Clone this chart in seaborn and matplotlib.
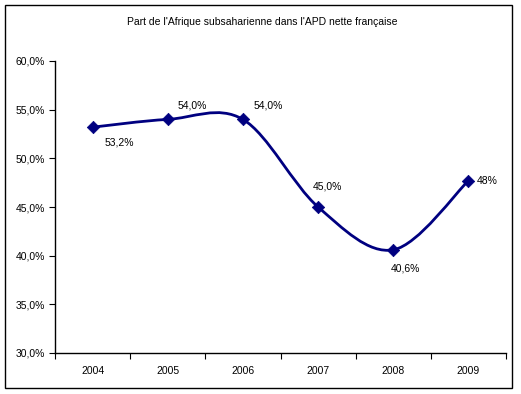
import numpy as np
import pandas as pd
import matplotlib
matplotlib.use("Agg")
import matplotlib.pyplot as plt
from matplotlib.path import Path
from matplotlib.patches import PathPatch, Rectangle
import seaborn as sns

years = ["2004", "2005", "2006", "2007", "2008", "2009"]
share = [53.2, 54.0, 54.0, 45.0, 40.6, 47.7]
labels = ["53,2%", "54,0%", "54,0%", "45,0%", "40,6%", "48%"]
yticks = [30, 35, 40, 45, 50, 55, 60]
title = "Part de l'Afrique subsaharienne dans l'APD nette française"

sns.set_style("white")
plt.rcParams['font.family'] = ['Liberation Sans', 'DejaVu Sans']
plt.rcParams['text.color'] = 'black'
plt.rcParams['xtick.color'] = 'black'
plt.rcParams['ytick.color'] = 'black'

navy = "#000080"
fig = plt.figure(figsize=(5.21, 3.94), dpi=100)
fig.patch.set_facecolor("white")
fig.add_artist(Rectangle((5/521, 6/394), 507/521, 383/394, transform=fig.transFigure,
                         fill=False, edgecolor="black", linewidth=1.0))
ax = fig.add_axes([55/521, 41/394, 451/521, 292/394])

df = pd.DataFrame({"x": np.arange(len(years)), "y": share})

# Smoothed line (Catmull-Rom as cubic Bezier path, like Excel smoothing)
pts = df[["x", "y"]].to_numpy(dtype=float)
ext = np.vstack([pts[0], pts, pts[-1]])
verts = [tuple(pts[0])]
codes = [Path.MOVETO]
for i in range(1, len(ext) - 2):
    p0, p1, p2, p3 = ext[i - 1], ext[i], ext[i + 1], ext[i + 2]
    c1 = p1 + (p2 - p0) / 6.0
    c2 = p2 - (p3 - p1) / 6.0
    verts += [tuple(c1), tuple(c2), tuple(p2)]
    codes += [Path.CURVE4] * 3
ax.add_patch(PathPatch(Path(verts, codes), facecolor="none", edgecolor=navy,
                       linewidth=2.0, zorder=2))

sns.scatterplot(data=df, x="x", y="y", marker="D", s=40, color=navy,
                edgecolor=navy, ax=ax, zorder=3, legend=False)

offsets = [(27, -15), (25, 14), (25, 14), (9, 21), (12, -19), (19, 0)]
for (xv, yv), lab, (dx, dy) in zip(pts, labels, offsets):
    ax.annotate(lab, (xv, yv), xytext=(dx, dy), textcoords="offset pixels",
                ha="center", va="center", fontsize=7.5, color="black")

ax.set_xlim(-0.5, len(years) - 0.5)
ax.set_ylim(30, 60)
ax.set_yticks(yticks)
ax.set_yticklabels([f"{v:.1f}%".replace(".", ",") for v in yticks], fontsize=7.5)
ax.set_xticks(np.arange(len(years)))
ax.set_xticklabels(years, fontsize=7.5)
ax.set_xticks(np.arange(-0.5, len(years)), minor=True)
ax.tick_params(axis="x", which="major", bottom=True, length=0, pad=9, labelcolor="black")
ax.tick_params(axis="x", which="minor", bottom=True, length=4, width=0.8,
               direction="out", color="black")
ax.tick_params(axis="y", which="major", left=True, length=4, width=0.8,
               direction="out", color="black", pad=3, labelcolor="black")
ax.set_xlabel("")
ax.set_ylabel("")
for s in ["top", "right"]:
    ax.spines[s].set_visible(False)
for s in ["left", "bottom"]:
    ax.spines[s].set_color("black")
    ax.spines[s].set_linewidth(1.0)
ax.set_facecolor("white")

fig.text(262/521, 1 - 22/394, title, ha="center", va="center", fontsize=7.5, color="black")

fig.savefig("out.png", dpi=100, facecolor="white")
